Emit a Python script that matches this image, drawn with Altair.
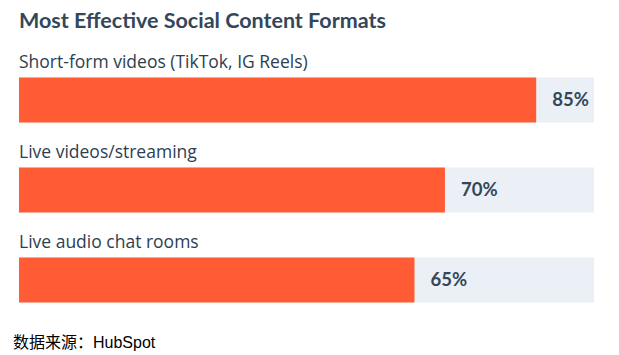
import altair as alt
import pandas as pd

categories = ["Short-form videos (TikTok, IG Reels)", "Live videos/streaming", "Live audio chat rooms"]
values = [85, 70, 65]
labels = ["85%", "70%", "65%"]
track_max = 94.5

df = pd.DataFrame({"cat": categories, "val": values, "lab": labels, "track": [track_max] * 3})

x = alt.X("val:Q", scale=alt.Scale(domain=[0, track_max], nice=False, zero=True), axis=None)
y = alt.Y("cat:N", sort=categories, axis=None, scale=alt.Scale(paddingInner=0, paddingOuter=0))

base = alt.Chart(df)

track = base.mark_bar(size=45, color="#EAF0F6").encode(
    x=alt.X("track:Q", scale=alt.Scale(domain=[0, track_max], nice=False), axis=None), y=y)
bars = base.mark_bar(size=45, color="#FF5C35").encode(x=x, y=y)
pct = base.mark_text(align="left", baseline="middle", dx=16, font="Lato", fontSize=18.5,
                     fontWeight="bold", color="#33475B").encode(x=x, y=y, text="lab:N")
cat = base.mark_text(align="left", baseline="middle", dy=-37, font="Open Sans", fontSize=17.5,
                     color="#2D3E50").encode(x=alt.value(0), y=y, text="cat:N")
footer = alt.Chart(pd.DataFrame({"t": ["数据来源：HubSpot"]})).mark_text(
    align="left", baseline="middle", font="Liberation Sans, Noto Sans CJK SC", fontSize=16,
    color="#000000").encode(x=alt.value(-6), y=alt.value(288), text="t:N")

chart = alt.layer(track, bars, pct, cat, footer).properties(
    width=575, height=270,
    autosize=alt.AutoSizeParams(type="none"),
    padding={"left": 19, "top": 55, "right": 25, "bottom": 30},
    title=alt.TitleParams("Most Effective Social Content Formats", anchor="start", frame="group",
                          font="Lato", fontSize=21.5, fontWeight="bold", color="#33475B", offset=22),
).configure_view(stroke=None)

chart.save("out.html", embed_options={"renderer": "svg", "actions": False})
